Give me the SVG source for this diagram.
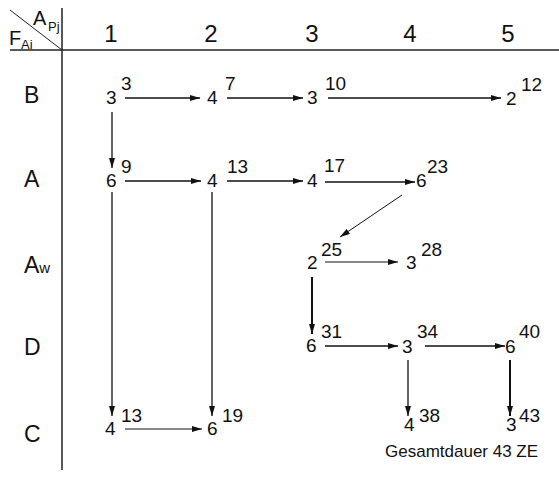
<svg xmlns="http://www.w3.org/2000/svg" width="559" height="479" viewBox="0 0 559 479">
  <style>
    text { font-family: "Liberation Sans", Arial, sans-serif; fill: #111; }
    .hd { font-size: 24px; text-anchor: middle; }
    .row { font-size: 23px; }
    .n { font-size: 19px; }
    .sub { font-size: 13px; }
    .grid { stroke: #222; stroke-width: 1.5; fill: none; }
    .e { stroke: #111; stroke-width: 1.3; fill: none; marker-end: url(#ah); }
    .thin { stroke-width: 1; }
    .bold { stroke-width: 2; }
  </style>
  <defs>
    <marker id="ah" viewBox="0 0 10 6" refX="10" refY="3" markerWidth="10" markerHeight="6" markerUnits="userSpaceOnUse" orient="auto">
      <path d="M0,0 L10,3 L0,6 Z" fill="#111"/>
    </marker>
  </defs>

  <!-- table frame -->
  <g id="frame">
    <line class="grid" x1="62" y1="8" x2="62" y2="470"/>
    <line class="grid" x1="10" y1="50" x2="559" y2="50"/>
    <line x1="10" y1="10" x2="62" y2="50" stroke="#222" stroke-width="1"/>
    <text x="33" y="25" font-size="20">A</text>
    <text x="48" y="31" class="sub">Pj</text>
    <text x="9" y="45" font-size="20">F</text>
    <text x="21" y="49" class="sub">Ai</text>
  </g>

  <!-- column headers -->
  <g id="columns">
    <text class="hd" x="111" y="42">1</text>
    <text class="hd" x="211" y="42">2</text>
    <text class="hd" x="312" y="42">3</text>
    <text class="hd" x="410" y="42">4</text>
    <text class="hd" x="508" y="42">5</text>
  </g>

  <!-- row headers -->
  <g id="rows">
    <text class="row" x="24" y="103">B</text>
    <text class="row" x="24" y="187">A</text>
    <text class="row" x="24" y="273">A<tspan font-size="15">w</tspan></text>
    <text class="row" x="24" y="355">D</text>
    <text class="row" x="24" y="442">C</text>
  </g>

  <!-- connectors -->
  <g id="connectors">
    <line class="e" x1="125" y1="98" x2="200" y2="98"/>
    <line class="e" x1="227" y1="98" x2="303" y2="98"/>
    <line class="e" x1="328" y1="98" x2="501" y2="98"/>
    <line class="e" x1="112" y1="112" x2="112" y2="168"/>
    <line class="e" x1="125" y1="181" x2="201" y2="181"/>
    <line class="e" x1="227" y1="181" x2="303" y2="181"/>
    <line class="e" x1="325" y1="182" x2="415" y2="182"/>
    <line class="e thin" x1="402" y1="195" x2="340" y2="237"/>
    <line class="e thin" x1="325" y1="262" x2="398" y2="262"/>
    <line class="e bold" x1="312" y1="277" x2="312" y2="334"/>
    <line class="e" x1="325" y1="346" x2="398" y2="346"/>
    <line class="e" x1="425" y1="346" x2="505" y2="346"/>
    <line class="e" x1="408" y1="360" x2="408" y2="416"/>
    <line class="e bold" x1="510" y1="360" x2="510" y2="416"/>
    <line class="e" x1="112" y1="192" x2="112" y2="416"/>
    <line class="e" x1="212" y1="192" x2="212" y2="416"/>
    <line class="e thin" x1="125" y1="429" x2="202" y2="429"/>
  </g>

  <!-- row B -->
  <g id="B1"><text class="n" x="106" y="104">3</text><text class="n" x="121" y="90">3</text></g>
  <g id="B2"><text class="n" x="207" y="104">4</text><text class="n" x="225" y="90">7</text></g>
  <g id="B3"><text class="n" x="307" y="104">3</text><text class="n" x="325" y="90">10</text></g>
  <g id="B5"><text class="n" x="506" y="105">2</text><text class="n" x="521" y="91">12</text></g>

  <!-- row A -->
  <g id="A1"><text class="n" x="106" y="187">6</text><text class="n" x="121" y="173">9</text></g>
  <g id="A2"><text class="n" x="207" y="187">4</text><text class="n" x="227" y="173">13</text></g>
  <g id="A3"><text class="n" x="307" y="187">4</text><text class="n" x="324" y="172">17</text></g>
  <g id="A4"><text class="n" x="416" y="187">6</text><text class="n" x="427" y="173">23</text></g>

  <!-- row Aw -->
  <g id="Aw3"><text class="n" x="307" y="269">2</text><text class="n" x="321" y="256">25</text></g>
  <g id="Aw4"><text class="n" x="406" y="269">3</text><text class="n" x="421" y="256">28</text></g>

  <!-- row D -->
  <g id="D3"><text class="n" x="306" y="352">6</text><text class="n" x="321" y="338">31</text></g>
  <g id="D4"><text class="n" x="402" y="353">3</text><text class="n" x="417" y="338">34</text></g>
  <g id="D5"><text class="n" x="505" y="353">6</text><text class="n" x="519" y="338">40</text></g>

  <!-- row C -->
  <g id="C1"><text class="n" x="105" y="435">4</text><text class="n" x="121" y="422">13</text></g>
  <g id="C2"><text class="n" x="207" y="435">6</text><text class="n" x="222" y="422">19</text></g>
  <g id="C4"><text class="n" x="404" y="431">4</text><text class="n" x="419" y="422">38</text></g>
  <g id="C5"><text class="n" x="506" y="431">3</text><text class="n" x="519" y="422">43</text></g>

  <text x="385" y="457" font-size="17">Gesamtdauer 43 ZE</text>
</svg>
